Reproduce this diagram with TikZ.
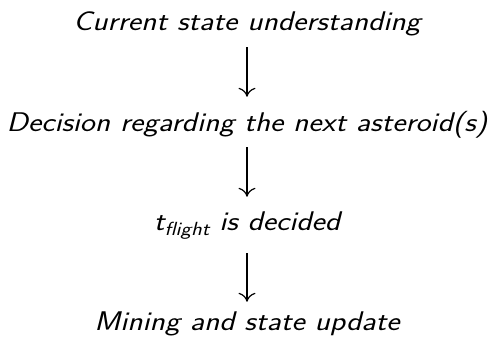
\documentclass[tikz,border=0pt]{standalone}
\usepackage{graphicx}
\usetikzlibrary{arrows.meta}
\newcommand\mylblfont{\fontsize{27}{32}\selectfont\sffamily\itshape}
\newcommand\wide[1]{\scalebox{1.17}[1]{#1}}
\newcommand\mysub[1]{\raisebox{-0.2em}{\fontsize{19}{22}\selectfont #1}}
\begin{document}
\begin{tikzpicture}[x=1pt,y=1pt,
  lbl/.style={font=\mylblfont, inner sep=0pt, anchor=base, text height=20pt, text depth=6pt},
  conn/.style={line width=1.4pt, -{To[length=9pt,width=17pt,line width=1.2pt]}}]
\useasboundingbox (0,0) rectangle (492,341);
\node[lbl] (a) at (247,310) {\wide{Current state understanding}};
\node[lbl] (b) at (247,210) {\wide{Decision regarding the next asteroid(s)}};
\node[lbl] (c) at (247,111) {\wide{t\mysub{flight} is decided}};
\node[lbl] (d) at (247,11) {\wide{Mining and state update}};
\draw[conn, shorten <=10pt, shorten >=14pt] (a) -- (b);
\draw[conn, shorten <=10pt, shorten >=13pt] (b) -- (c);
\draw[conn, shorten <=17pt, shorten >=8pt] (c) -- (d);
\end{tikzpicture}
\end{document}
